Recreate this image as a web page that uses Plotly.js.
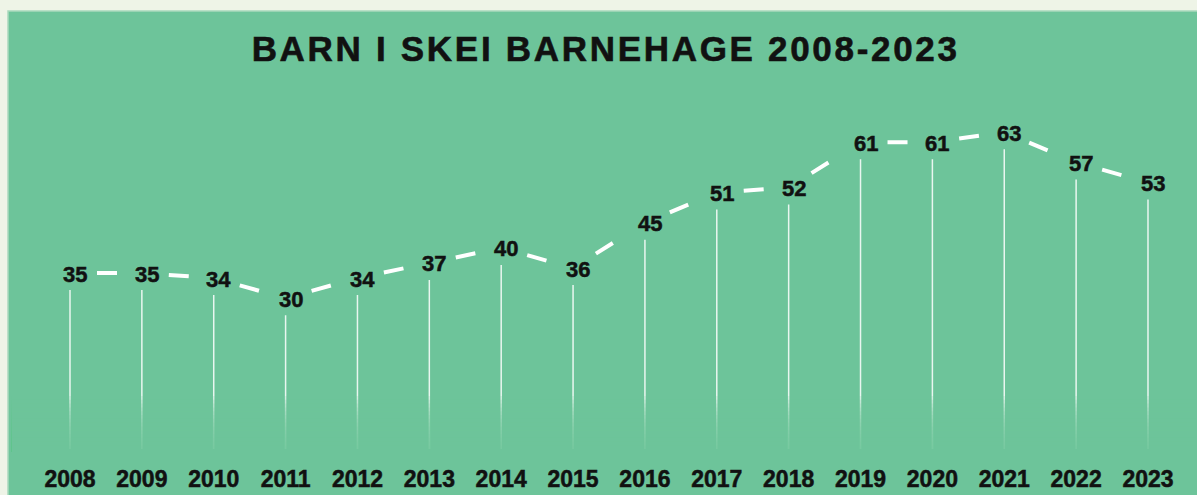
<!DOCTYPE html>
<html>
<head>
<meta charset="utf-8">
<script src="https://cdn.plot.ly/plotly-3.0.1.min.js"></script>
<style>
  html, body { margin: 0; padding: 0; background: #eef4e7; }
  #chart { width: 1197px; height: 495px; }
  .gtitle { letter-spacing: 2.7px; stroke: #111; stroke-width: 0.6px; }
  .annotation-text { stroke: #111; stroke-width: 0.5px; }
  .xtick text { stroke: #111; stroke-width: 0.5px; }
</style>
</head>
<body>
<div id="chart"></div>
<script>
const years = [2008, 2009, 2010, 2011, 2012, 2013, 2014, 2015, 2016, 2017, 2018, 2019, 2020, 2021, 2022, 2023];
const children = [35, 35, 34, 30, 34, 37, 40, 36, 45, 51, 52, 61, 61, 63, 57, 53];
const yearLabels = years.map(String);
const chartTitle = 'BARN I SKEI BARNEHAGE 2008-2023';

const GREEN = '#6dc49a';
const FONT = 'Liberation Sans, Arial, sans-serif';

const traces = [];
// vertical drop lines from each point to zero
years.forEach((yr, i) => {
  traces.push({
    type: 'scatter', mode: 'lines',
    x: [yr, yr], y: [children[i], 0],
    line: { color: 'rgba(255,255,255,0.85)', width: 1.5, dash: '0px,17px,3000px' },
    hoverinfo: 'skip', showlegend: false
  });
});
// dashed connecting segments
for (let i = 0; i < years.length - 1; i++) {
  traces.push({
    type: 'scatter', mode: 'lines',
    x: [years[i], years[i + 1]], y: [children[i], children[i + 1]],
    line: { color: '#ffffff', width: 4, dash: '0px,27px,20px,3000px' },
    hoverinfo: 'skip', showlegend: false
  });
}

const annotations = years.map((yr, i) => ({
  x: yr, y: children[i], xref: 'x', yref: 'y',
  text: String(children[i]), showarrow: false, xshift: 5, yshift: -1,
  font: { family: FONT, size: 22, color: '#111111', weight: 'bold' }
}));

const H = 463; // plot height in px
const pp = p => (H - p) / H;
const shapes = [
  { type: 'rect', xref: 'paper', yref: 'paper', x0: 8 / 1197, x1: 1.05, y0: -0.2, y1: pp(11),
    fillcolor: GREEN, line: { color: '#a9d9bd', width: 1.5 }, layer: 'below' }
];
// soft fade of the drop lines near the bottom
for (let k = 0; k < 14; k++) {
  shapes.push({ type: 'rect', xref: 'paper', yref: 'paper', x0: 0.01, x1: 0.999,
    y0: pp(452), y1: pp(396 + k * 3.8), fillcolor: GREEN, opacity: 0.16,
    line: { width: 0 }, layer: 'above' });
}

const layout = {
  width: 1197, height: 495,
  margin: { l: 0, r: 0, t: 0, b: 32 },
  paper_bgcolor: '#eef4e7', plot_bgcolor: 'rgba(0,0,0,0)',
  title: {
    text: chartTitle, x: 0.506, xanchor: 'center', y: 1 - 49 / 495, yanchor: 'middle', yref: 'container',
    font: { family: FONT, size: 35, color: '#111111', weight: 'bold' }
  },
  xaxis: {
    range: [2007.026, 2023.682], tickvals: years, ticktext: yearLabels,
    showgrid: false, zeroline: false, showline: false, ticks: '',
    tickfont: { family: FONT, size: 23, color: '#111111', weight: 'bold' }, fixedrange: true
  },
  yaxis: { range: [-2.78, 89.3], visible: false, showgrid: false, zeroline: false, fixedrange: true },
  showlegend: false, hovermode: false,
  shapes: shapes, annotations: annotations
};

Plotly.newPlot('chart', traces, layout, { displayModeBar: false, staticPlot: true });
</script>
</body>
</html>
